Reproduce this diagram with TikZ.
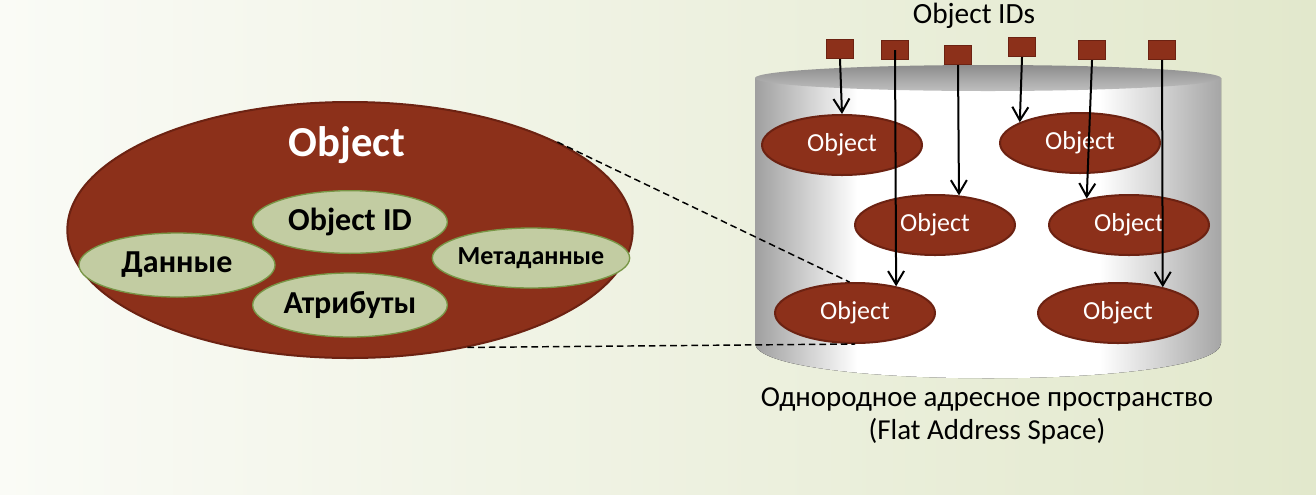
\documentclass[tikz,border=0pt]{standalone}
\usepackage{fontspec}
\setmainfont{Carlito}
\usepackage{tikz}
\usetikzlibrary{arrows.meta, positioning, shapes.geometric}
\definecolor{objbrown}{RGB}{140,48,26}
\definecolor{objedge}{RGB}{108,34,18}
\definecolor{leafgreen}{RGB}{194,204,162}
\definecolor{leafedge}{RGB}{120,150,70}
\definecolor{paper}{RGB}{250,251,246}
\definecolor{paperright}{RGB}{226,232,204}
\pgfdeclarehorizontalshading{cylbody}{100bp}{color(0bp)=(gray!75); color(25bp)=(gray!75);
  color(36bp)=(white); color(62bp)=(white); color(75bp)=(gray!70); color(100bp)=(gray!70)}

\begin{document}
\begin{tikzpicture}[x=0.75pt, y=-0.75pt,
      whole/.style={ellipse, fill=objbrown, draw=objedge, line width=1.5pt,
                    minimum width=424pt, minimum height=192pt, inner sep=0pt},
      part/.style={ellipse, fill=leafgreen, draw=leafedge, line width=1pt, inner sep=0pt,
                   font=\bfseries\fontsize{24}{26}\selectfont, minimum width=146pt, minimum height=47pt},
      blob/.style={ellipse, fill=objbrown, draw=objedge, line width=1.5pt, inner sep=0pt,
                   text=white, font=\fontsize{19.5}{21}\selectfont, minimum width=120pt, minimum height=45pt},
      idbox/.style={rectangle, fill=objbrown, draw=objedge, line width=1.2pt,
                    minimum width=20pt, minimum height=14pt, inner sep=0pt},
      arr/.style={-{Straight Barb[length=10pt, width=12pt]}, line width=1.5pt},
      zoomline/.style={dash pattern=on 5pt off 3pt, line width=1.1pt},
    ]
    \fill[left color=paper, right color=paperright] (0,0) rectangle (1316,494);
    \useasboundingbox (0,0) rectangle (1316,494);

    % the object and its parts
    \node[whole] (obj) at (350,230) {};
    \node[text=white, font=\bfseries\fontsize{32}{36}\selectfont] (objtitle) at (347,145) {Object};
    \node[part] (pid) at (350,222) {Object ID};
    \node[part, minimum width=147pt, minimum height=48pt] (pdata) at (177,265) {Данные};
    \node[part, font=\bfseries\fontsize{19.5}{22}\selectfont, inner xsep=-4pt,
          minimum width=148pt, minimum height=45pt] (pmeta) at (531,258) {Метаданные};
    \node[part, minimum height=48pt] (pattr) at (350,305) {Атрибуты};

    % flat address space
    \fill[shading=cylbody] (755,78) -- (755,343) .. controls (755,390) and (1221,390) .. (1221,343)
      -- (1221,78) -- cycle;
    \shade[top color=gray!90, middle color=black!55, bottom color=gray!50]
      (988,78) ellipse [x radius=233, y radius=13];

    \node[blob] (o1) at (842,145) {Object};
    \node[blob] (o2) at (1080,143) {Object};
    \node[blob] (o3) at (935,225) {Object};
    \node[blob] (o4) at (1129,225) {Object};
    \node[blob] (o5) at (855,313) {Object};
    \node[blob] (o6) at (1118,313) {Object};

    \draw[zoomline] (obj.23) -- (o5.100);
    \draw[zoomline] (obj.-45) -- (o5.south);

    \node[font=\fontsize{22}{25}\selectfont] (idtitle) at (974,16) {Object IDs};
    \node[idbox] (id1) at (840,49) {};
    \node[idbox] (id2) at (895,50) {};
    \node[idbox] (id3) at (958,55) {};
    \node[idbox] (id4) at (1022,47) {};
    \node[idbox] (id5) at (1092,50) {};
    \node[idbox] (id6) at (1162,50) {};

    \draw[arr] (id1.south) -- (o1.north);
    \draw[arr] (id2.center) -- (o5.33);
    \draw[arr] (id3.south) -- (o3.51);
    \draw[arr] (id4.south) -- (o2.161);
    \draw[arr] (id5.south) -- (o4.148);
    \draw[arr] (id6.south) -- (o6.30);

    \node[font=\fontsize{21.7}{24.5}\selectfont, align=center] (caption) at (987,416)
      {Однородное адресное пространство\\(Flat Address Space)};
  \end{tikzpicture}
\end{document}
